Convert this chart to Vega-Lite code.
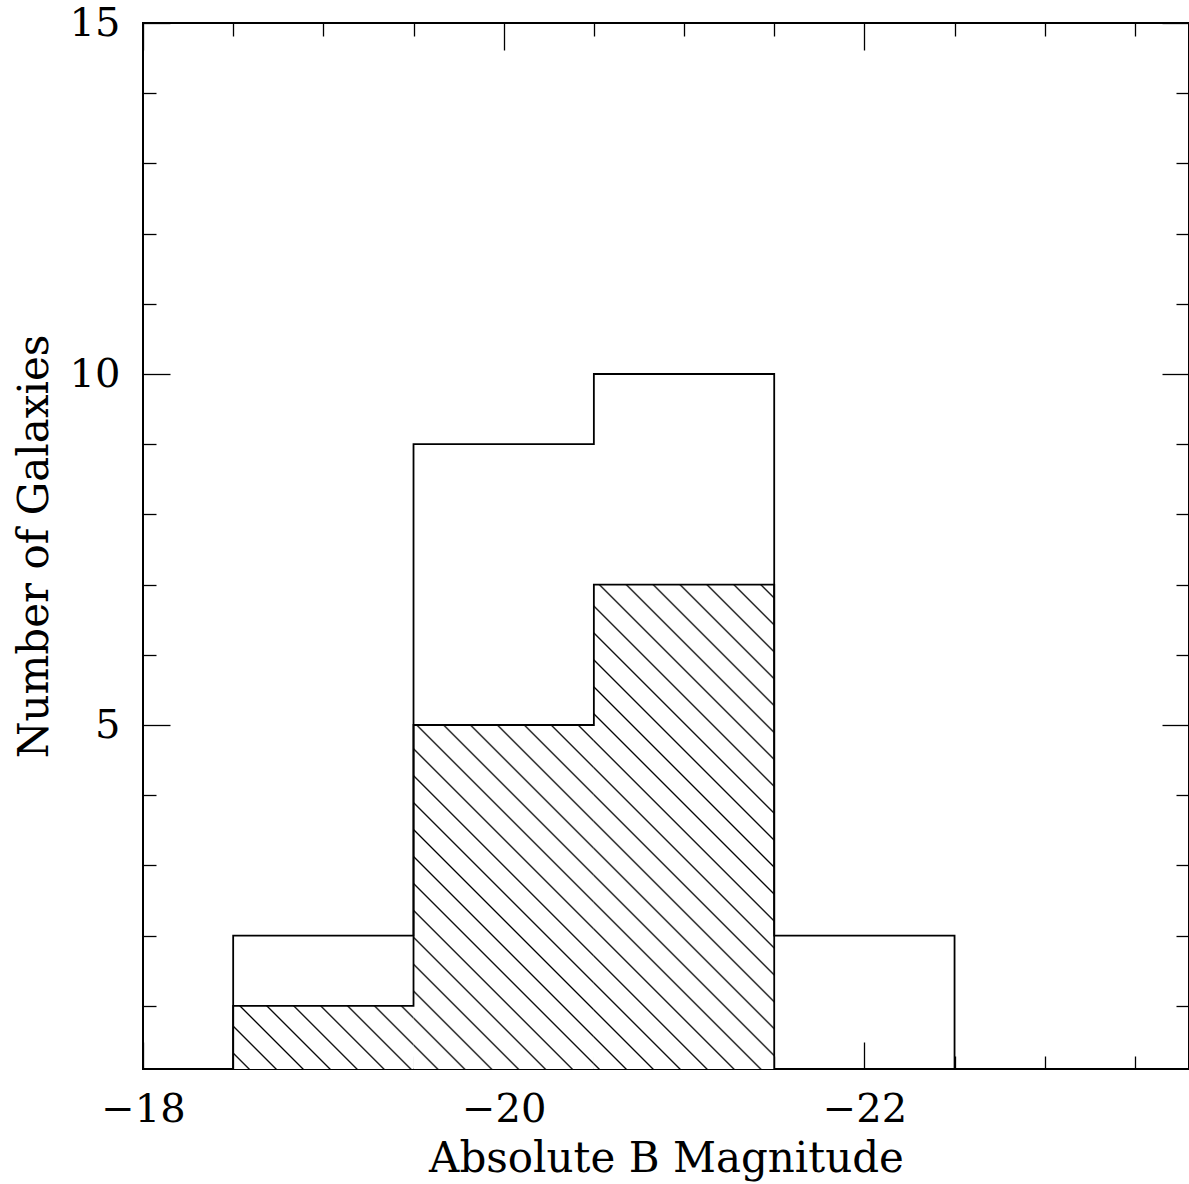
{
  "$schema": "https://vega.github.io/schema/vega-lite/v6.json",
  "width": 1046,
  "height": 1046,
  "autosize": "none",
  "padding": {"left": 143, "top": 23, "right": 0, "bottom": 115},
  "background": "white",
  "config": {
    "view": {"stroke": "black", "strokeWidth": 2},
    "axis": {
      "labelFont": "DejaVu Serif", "titleFont": "DejaVu Serif",
      "labelFontSize": 40, "titleFontSize": 42, "titleFontWeight": "normal",
      "labelColor": "black", "titleColor": "black", "tickColor": "black", "tickWidth": 1.3,
      "domain": false, "grid": false, "labelOverlap": false, "labelFlush": false, "labelBound": false
    }
  },
  "datasets": {
    "hist": [
      {"lo": -18.5, "hi": -19.5, "total": 2, "hatched": 1},
      {"lo": -19.5, "hi": -20.5, "total": 9, "hatched": 5},
      {"lo": -20.5, "hi": -21.5, "total": 10, "hatched": 7},
      {"lo": -21.5, "hi": -22.5, "total": 2, "hatched": 0}
    ],
    "outer": [
      {"x": -18.5, "n": 0, "k": 0},
      {"x": -18.5, "n": 2, "k": 1},
      {"x": -19.5, "n": 9, "k": 2},
      {"x": -20.5, "n": 10, "k": 3},
      {"x": -21.5, "n": 2, "k": 4},
      {"x": -22.5, "n": 0, "k": 5}
    ],
    "inner": [
      {"x": -18.5, "n": 0, "k": 0},
      {"x": -18.5, "n": 1, "k": 1},
      {"x": -19.5, "n": 5, "k": 2},
      {"x": -20.5, "n": 7, "k": 3},
      {"x": -21.5, "n": 0, "k": 4}
    ]
  },
  "layer": [
    {
      "data": {"name": "hist"},
      "transform": [{"filter": "datum.lo === -18.5"}],
      "mark": {"type": "rect", "clip": true, "strokeWidth": 0,
        "fill": {"gradient": "linear", "x1": 0, "y1": 1, "x2": 1.20645, "y2": 0.53038, "stops": [
          {"offset": 0, "color": "white"},
          {"offset": 0.0846, "color": "white"}, {"offset": 0.0918, "color": "black"}, {"offset": 0.0990, "color": "white"},
          {"offset": 0.1921, "color": "white"}, {"offset": 0.1993, "color": "black"}, {"offset": 0.2065, "color": "white"},
          {"offset": 0.2995, "color": "white"}, {"offset": 0.3067, "color": "black"}, {"offset": 0.3139, "color": "white"},
          {"offset": 0.4070, "color": "white"}, {"offset": 0.4142, "color": "black"}, {"offset": 0.4214, "color": "white"},
          {"offset": 0.5144, "color": "white"}, {"offset": 0.5216, "color": "black"}, {"offset": 0.5288, "color": "white"},
          {"offset": 0.6219, "color": "white"}, {"offset": 0.6291, "color": "black"}, {"offset": 0.6363, "color": "white"},
          {"offset": 0.7293, "color": "white"}, {"offset": 0.7365, "color": "black"}, {"offset": 0.7437, "color": "white"},
          {"offset": 0.8368, "color": "white"}, {"offset": 0.8440, "color": "black"}, {"offset": 0.8512, "color": "white"},
          {"offset": 0.9442, "color": "white"}, {"offset": 0.9514, "color": "black"}, {"offset": 0.9586, "color": "white"},
          {"offset": 1, "color": "white"}
        ]}},
      "encoding": {
        "x": {"field": "lo", "type": "quantitative", "scale": {"domain": [-23.8, -18], "reverse": true, "nice": false, "zero": false}, "axis": null},
        "x2": {"field": "hi"},
        "y": {"field": "hatched", "type": "quantitative", "scale": {"domain": [0.1, 15], "nice": false, "zero": false}, "axis": null},
        "y2": {"datum": 0}
      }
    },
    {
      "data": {"name": "hist"},
      "transform": [{"filter": "datum.lo === -19.5"}],
      "mark": {"type": "rect", "clip": true, "strokeWidth": 0,
        "fill": {"gradient": "linear", "x1": 0, "y1": 1, "x2": 0.61534, "y2": -0.19764, "stops": [
          {"offset": 0, "color": "white"},
          {"offset": 0.0045, "color": "white"}, {"offset": 0.0079, "color": "black"}, {"offset": 0.0113, "color": "white"},
          {"offset": 0.0551, "color": "white"}, {"offset": 0.0585, "color": "black"}, {"offset": 0.0619, "color": "white"},
          {"offset": 0.1058, "color": "white"}, {"offset": 0.1092, "color": "black"}, {"offset": 0.1126, "color": "white"},
          {"offset": 0.1565, "color": "white"}, {"offset": 0.1599, "color": "black"}, {"offset": 0.1633, "color": "white"},
          {"offset": 0.2071, "color": "white"}, {"offset": 0.2105, "color": "black"}, {"offset": 0.2139, "color": "white"},
          {"offset": 0.2578, "color": "white"}, {"offset": 0.2612, "color": "black"}, {"offset": 0.2646, "color": "white"},
          {"offset": 0.3085, "color": "white"}, {"offset": 0.3119, "color": "black"}, {"offset": 0.3153, "color": "white"},
          {"offset": 0.3591, "color": "white"}, {"offset": 0.3625, "color": "black"}, {"offset": 0.3659, "color": "white"},
          {"offset": 0.4098, "color": "white"}, {"offset": 0.4132, "color": "black"}, {"offset": 0.4166, "color": "white"},
          {"offset": 0.4605, "color": "white"}, {"offset": 0.4639, "color": "black"}, {"offset": 0.4673, "color": "white"},
          {"offset": 0.5111, "color": "white"}, {"offset": 0.5145, "color": "black"}, {"offset": 0.5179, "color": "white"},
          {"offset": 0.5618, "color": "white"}, {"offset": 0.5652, "color": "black"}, {"offset": 0.5686, "color": "white"},
          {"offset": 0.6124, "color": "white"}, {"offset": 0.6158, "color": "black"}, {"offset": 0.6192, "color": "white"},
          {"offset": 0.6631, "color": "white"}, {"offset": 0.6665, "color": "black"}, {"offset": 0.6699, "color": "white"},
          {"offset": 0.7138, "color": "white"}, {"offset": 0.7172, "color": "black"}, {"offset": 0.7206, "color": "white"},
          {"offset": 0.7644, "color": "white"}, {"offset": 0.7678, "color": "black"}, {"offset": 0.7712, "color": "white"},
          {"offset": 0.8151, "color": "white"}, {"offset": 0.8185, "color": "black"}, {"offset": 0.8219, "color": "white"},
          {"offset": 0.8658, "color": "white"}, {"offset": 0.8692, "color": "black"}, {"offset": 0.8726, "color": "white"},
          {"offset": 0.9164, "color": "white"}, {"offset": 0.9198, "color": "black"}, {"offset": 0.9232, "color": "white"},
          {"offset": 0.9671, "color": "white"}, {"offset": 0.9705, "color": "black"}, {"offset": 0.9739, "color": "white"},
          {"offset": 1, "color": "white"}
        ]}},
      "encoding": {
        "x": {"field": "lo", "type": "quantitative", "scale": {"domain": [-23.8, -18], "reverse": true, "nice": false, "zero": false}, "axis": null},
        "x2": {"field": "hi"},
        "y": {"field": "hatched", "type": "quantitative", "scale": {"domain": [0.1, 15], "nice": false, "zero": false}, "axis": null},
        "y2": {"datum": 0}
      }
    },
    {
      "data": {"name": "hist"},
      "transform": [{"filter": "datum.lo === -20.5"}],
      "mark": {"type": "rect", "clip": true, "strokeWidth": 0,
        "fill": {"gradient": "linear", "x1": 0, "y1": 1, "x2": 0.44213, "y2": -0.20474, "stops": [
          {"offset": 0, "color": "white"},
          {"offset": 0.0156, "color": "white"}, {"offset": 0.0183, "color": "black"}, {"offset": 0.0210, "color": "white"},
          {"offset": 0.0557, "color": "white"}, {"offset": 0.0584, "color": "black"}, {"offset": 0.0611, "color": "white"},
          {"offset": 0.0957, "color": "white"}, {"offset": 0.0984, "color": "black"}, {"offset": 0.1011, "color": "white"},
          {"offset": 0.1358, "color": "white"}, {"offset": 0.1385, "color": "black"}, {"offset": 0.1412, "color": "white"},
          {"offset": 0.1759, "color": "white"}, {"offset": 0.1786, "color": "black"}, {"offset": 0.1813, "color": "white"},
          {"offset": 0.2160, "color": "white"}, {"offset": 0.2187, "color": "black"}, {"offset": 0.2214, "color": "white"},
          {"offset": 0.2560, "color": "white"}, {"offset": 0.2587, "color": "black"}, {"offset": 0.2614, "color": "white"},
          {"offset": 0.2961, "color": "white"}, {"offset": 0.2988, "color": "black"}, {"offset": 0.3015, "color": "white"},
          {"offset": 0.3362, "color": "white"}, {"offset": 0.3389, "color": "black"}, {"offset": 0.3416, "color": "white"},
          {"offset": 0.3763, "color": "white"}, {"offset": 0.3790, "color": "black"}, {"offset": 0.3817, "color": "white"},
          {"offset": 0.4163, "color": "white"}, {"offset": 0.4190, "color": "black"}, {"offset": 0.4217, "color": "white"},
          {"offset": 0.4564, "color": "white"}, {"offset": 0.4591, "color": "black"}, {"offset": 0.4618, "color": "white"},
          {"offset": 0.4965, "color": "white"}, {"offset": 0.4992, "color": "black"}, {"offset": 0.5019, "color": "white"},
          {"offset": 0.5365, "color": "white"}, {"offset": 0.5392, "color": "black"}, {"offset": 0.5419, "color": "white"},
          {"offset": 0.5766, "color": "white"}, {"offset": 0.5793, "color": "black"}, {"offset": 0.5820, "color": "white"},
          {"offset": 0.6167, "color": "white"}, {"offset": 0.6194, "color": "black"}, {"offset": 0.6221, "color": "white"},
          {"offset": 0.6568, "color": "white"}, {"offset": 0.6595, "color": "black"}, {"offset": 0.6622, "color": "white"},
          {"offset": 0.6968, "color": "white"}, {"offset": 0.6995, "color": "black"}, {"offset": 0.7022, "color": "white"},
          {"offset": 0.7369, "color": "white"}, {"offset": 0.7396, "color": "black"}, {"offset": 0.7423, "color": "white"},
          {"offset": 0.7770, "color": "white"}, {"offset": 0.7797, "color": "black"}, {"offset": 0.7824, "color": "white"},
          {"offset": 0.8171, "color": "white"}, {"offset": 0.8198, "color": "black"}, {"offset": 0.8225, "color": "white"},
          {"offset": 0.8571, "color": "white"}, {"offset": 0.8598, "color": "black"}, {"offset": 0.8625, "color": "white"},
          {"offset": 0.8972, "color": "white"}, {"offset": 0.8999, "color": "black"}, {"offset": 0.9026, "color": "white"},
          {"offset": 0.9373, "color": "white"}, {"offset": 0.9400, "color": "black"}, {"offset": 0.9427, "color": "white"},
          {"offset": 0.9774, "color": "white"}, {"offset": 0.9801, "color": "black"}, {"offset": 0.9828, "color": "white"},
          {"offset": 1, "color": "white"}
        ]}},
      "encoding": {
        "x": {"field": "lo", "type": "quantitative", "scale": {"domain": [-23.8, -18], "reverse": true, "nice": false, "zero": false}, "axis": null},
        "x2": {"field": "hi"},
        "y": {"field": "hatched", "type": "quantitative", "scale": {"domain": [0.1, 15], "nice": false, "zero": false}, "axis": null},
        "y2": {"datum": 0}
      }
    },
    {
      "data": {"name": "outer"},
      "mark": {"type": "line", "interpolate": "step-after", "clip": true, "stroke": "black", "strokeWidth": 1.8},
      "encoding": {
        "x": {"field": "x", "type": "quantitative",
          "scale": {"domain": [-23.8, -18], "reverse": true, "nice": false, "zero": false},
          "axis": {"orient": "bottom", "title": "Absolute B Magnitude",
            "values": [-18, -18.5, -19, -19.5, -20, -20.5, -21, -21.5, -22, -22.5, -23, -23.5],
            "labelExpr": "datum.value % 2 === 0 ? format(datum.value, 'd') : ''",
            "tickSize": {"condition": {"test": "datum.value % 2 === 0", "value": -27}, "value": -13},
            "labelPadding": 47, "titlePadding": -5}},
        "y": {"field": "n", "type": "quantitative",
          "scale": {"domain": [0.1, 15], "nice": false, "zero": false},
          "axis": {"orient": "left", "title": "Number of Galaxies",
            "values": [1, 2, 3, 4, 5, 6, 7, 8, 9, 10, 11, 12, 13, 14, 15],
            "labelExpr": "datum.value % 5 === 0 ? format(datum.value, 'd') : ''",
            "tickSize": {"condition": {"test": "datum.value % 5 === 0", "value": -27}, "value": -13},
            "labelPadding": 50, "titlePadding": 13}},
        "order": {"field": "k", "type": "quantitative"}
      }
    },
    {
      "data": {"name": "inner"},
      "mark": {"type": "line", "interpolate": "step-after", "clip": true, "stroke": "black", "strokeWidth": 1.8},
      "encoding": {
        "x": {"field": "x", "type": "quantitative",
          "scale": {"domain": [-23.8, -18], "reverse": true, "nice": false, "zero": false},
          "axis": {"orient": "top", "title": null, "labels": false,
            "values": [-18, -18.5, -19, -19.5, -20, -20.5, -21, -21.5, -22, -22.5, -23, -23.5],
            "tickSize": {"condition": {"test": "datum.value % 2 === 0", "value": -27}, "value": -13}}},
        "y": {"field": "n", "type": "quantitative",
          "scale": {"domain": [0.1, 15], "nice": false, "zero": false},
          "axis": {"orient": "right", "title": null, "labels": false,
            "values": [1, 2, 3, 4, 5, 6, 7, 8, 9, 10, 11, 12, 13, 14, 15],
            "tickSize": {"condition": {"test": "datum.value % 5 === 0", "value": -27}, "value": -13}}},
        "order": {"field": "k", "type": "quantitative"}
      }
    }
  ],
  "resolve": {"axis": {"x": "independent", "y": "independent"}}
}
